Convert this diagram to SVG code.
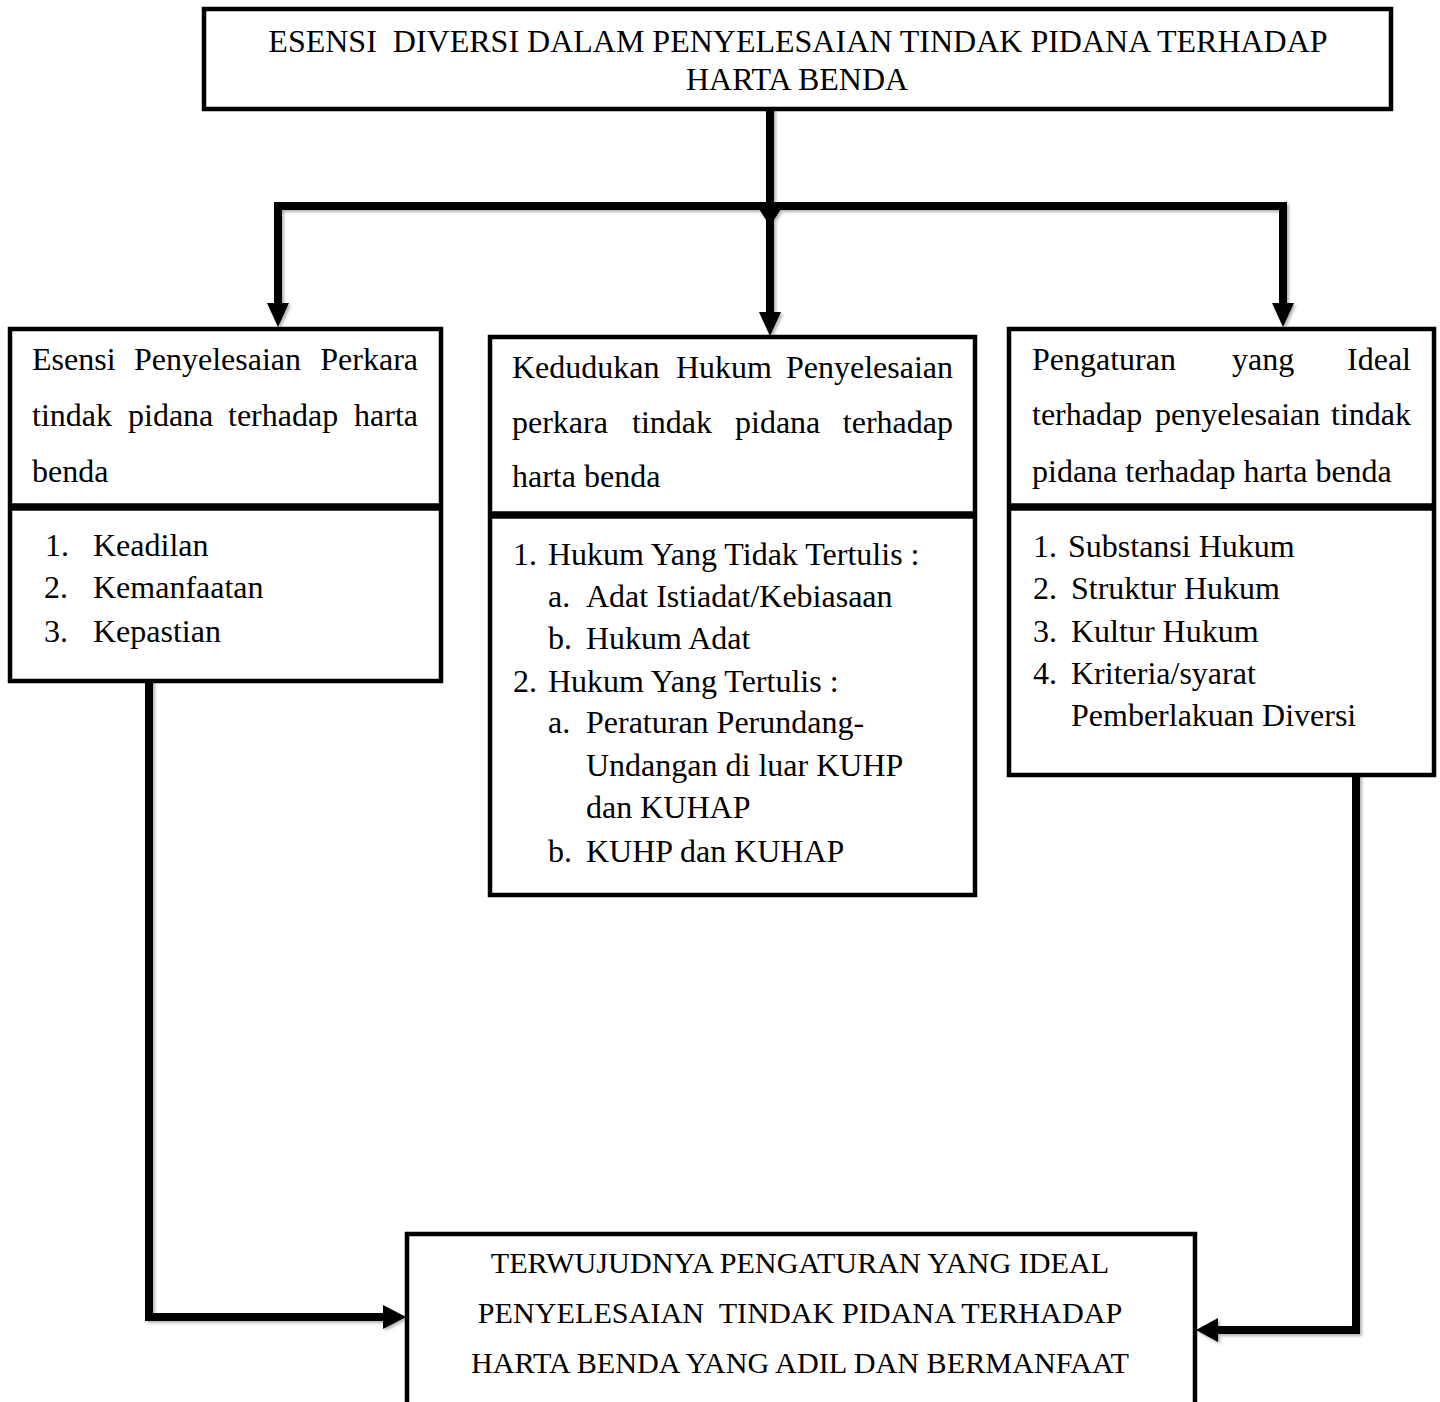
<svg xmlns="http://www.w3.org/2000/svg" width="1440" height="1402" viewBox="0 0 1440 1402">
<style>
.box{fill:#fff;stroke:#000;stroke-width:4.5}
.div{stroke:#000;stroke-width:7.5;fill:none}
.t{font-family:"Liberation Serif","Times New Roman",serif;font-size:32px;fill:#000}
.title{font-family:"Liberation Serif","Times New Roman",serif;font-size:32px;fill:#000}
.bt{font-family:"Liberation Serif","Times New Roman",serif;font-size:30.2px;fill:#000}
.ln{stroke:#000;stroke-width:8;fill:none;stroke-linejoin:miter;stroke-linecap:square}
.ah{fill:#000}
.e{text-anchor:end}
</style>
<defs>
<filter id="sh" x="-5%" y="-5%" width="110%" height="110%">
<feDropShadow dx="2" dy="2" stdDeviation="1.5" flood-color="#000" flood-opacity="0.3"/>
</filter>
</defs>
<rect width="1440" height="1402" fill="#fff"/>

<g id="connectors" filter="url(#sh)">
<path class="ln" d="M770,110 V212"/>
<polygon class="ah" points="759,209 781,209 770,226"/>
<path class="ln" d="M278,312 V206 H1283 V312"/>
<polygon class="ah" points="267,303 289,303 278,327"/>
<polygon class="ah" points="1272,303 1294,303 1283,327"/>
<path class="ln" d="M770,206 V315"/>
<polygon class="ah" points="759,312 781,312 770,336"/>
<path class="ln" d="M149,683 V1317 H388"/>
<polygon class="ah" points="383,1305 383,1329 406,1317"/>
<path class="ln" d="M1356,777 V1330 H1212"/>
<polygon class="ah" points="1218,1318 1218,1342 1196,1330"/>
</g>

<g id="node-top">
<rect class="box" x="204" y="9" width="1187" height="100"/>
<text class="title" x="798" y="52" text-anchor="middle" xml:space="preserve">ESENSI  DIVERSI DALAM PENYELESAIAN TINDAK PIDANA TERHADAP</text>
<text class="title" x="797" y="90" text-anchor="middle">HARTA BENDA</text>
</g>

<g id="node-left">
<rect class="box" x="10" y="329" width="431" height="352"/>
<line class="div" x1="10" y1="507" x2="441" y2="507"/>
<text class="t" y="370"><tspan x="32">Esensi</tspan><tspan x="134">Penyelesaian</tspan><tspan class="e" x="418">Perkara</tspan></text>
<text class="t" y="426"><tspan x="32">tindak</tspan><tspan x="128">pidana</tspan><tspan x="228">terhadap</tspan><tspan class="e" x="418">harta</tspan></text>
<text class="t" x="32" y="482">benda</text>
<text class="t" y="556"><tspan x="45">1.</tspan><tspan x="93">Keadilan</tspan></text>
<text class="t" y="598"><tspan x="44">2.</tspan><tspan x="93">Kemanfaatan</tspan></text>
<text class="t" y="642"><tspan x="44">3.</tspan><tspan x="93">Kepastian</tspan></text>
</g>

<g id="node-middle">
<rect class="box" x="490" y="337" width="485" height="558"/>
<line class="div" x1="490" y1="515" x2="975" y2="515"/>
<text class="t" y="378"><tspan x="512">Kedudukan</tspan><tspan x="676">Hukum</tspan><tspan class="e" x="953">Penyelesaian</tspan></text>
<text class="t" y="433"><tspan x="512">perkara</tspan><tspan x="632">tindak</tspan><tspan x="735">pidana</tspan><tspan class="e" x="953">terhadap</tspan></text>
<text class="t" x="512" y="487">harta benda</text>
<text class="t" y="565"><tspan x="513">1.</tspan><tspan x="548">Hukum Yang Tidak Tertulis :</tspan></text>
<text class="t" y="607"><tspan x="548">a.</tspan><tspan x="586">Adat Istiadat/Kebiasaan</tspan></text>
<text class="t" y="649"><tspan x="548">b.</tspan><tspan x="586">Hukum Adat</tspan></text>
<text class="t" y="692"><tspan x="513">2.</tspan><tspan x="548">Hukum Yang Tertulis :</tspan></text>
<text class="t" y="733"><tspan x="548">a.</tspan><tspan x="586">Peraturan Perundang-</tspan></text>
<text class="t" x="586" y="776">Undangan di luar KUHP</text>
<text class="t" x="586" y="818">dan KUHAP</text>
<text class="t" y="862"><tspan x="548">b.</tspan><tspan x="586">KUHP dan KUHAP</tspan></text>
</g>

<g id="node-right">
<rect class="box" x="1009" y="329" width="425" height="446"/>
<line class="div" x1="1009" y1="507" x2="1434" y2="507"/>
<text class="t" y="370"><tspan x="1032">Pengaturan</tspan><tspan x="1232">yang</tspan><tspan class="e" x="1411">Ideal</tspan></text>
<text class="t" y="425"><tspan x="1032">terhadap</tspan><tspan x="1155">penyelesaian</tspan><tspan class="e" x="1411">tindak</tspan></text>
<text class="t" x="1032" y="482">pidana terhadap harta benda</text>
<text class="t" y="557"><tspan x="1033">1.</tspan><tspan x="1068">Substansi Hukum</tspan></text>
<text class="t" y="599"><tspan x="1033">2.</tspan><tspan x="1071">Struktur Hukum</tspan></text>
<text class="t" y="642"><tspan x="1033">3.</tspan><tspan x="1071">Kultur Hukum</tspan></text>
<text class="t" y="684"><tspan x="1033">4.</tspan><tspan x="1071">Kriteria/syarat</tspan></text>
<text class="t" x="1071" y="726">Pemberlakuan Diversi</text>
</g>

<g id="node-bottom">
<path class="box" d="M407,1410 V1234 H1195 V1410"/>
<text class="bt" x="800" y="1273" text-anchor="middle">TERWUJUDNYA PENGATURAN YANG IDEAL</text>
<text class="bt" x="800" y="1323" text-anchor="middle" xml:space="preserve">PENYELESAIAN  TINDAK PIDANA TERHADAP</text>
<text class="bt" x="800" y="1373" text-anchor="middle">HARTA BENDA YANG ADIL DAN BERMANFAAT</text>
</g>
</svg>
